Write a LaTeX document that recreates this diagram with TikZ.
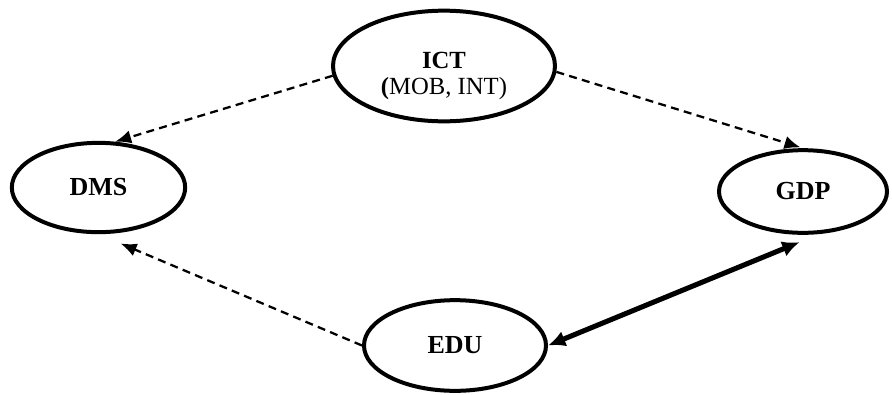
\documentclass[tikz,border=0pt]{standalone}
\usepackage{fontspec}
\setmainfont{Liberation Serif}
\usetikzlibrary{shapes.geometric}
\usetikzlibrary{arrows.meta}
\tikzstyle{state} = [draw, ellipse, line width=3pt, inner sep=0pt, font=\fontsize{19.5}{22}\selectfont\bfseries]
\tikzstyle{caption} = [align=center, inner sep=0pt, font=\fontsize{18.5}{20}\selectfont]
\tikzstyle{link} = [line width=1.7pt, dash pattern=on 6pt off 4pt, -{Latex[length=12pt,width=10pt]}]
\tikzstyle{bond} = [line width=3.8pt, {Latex[length=13pt,width=12pt]}-{Latex[length=13pt,width=12pt]}]

\begin{document}
\begin{tikzpicture}[x=0.75pt,y=-0.75pt]
    \useasboundingbox (0,0) rectangle (892,394);
    \node [state, minimum width=166.5pt, minimum height=83pt] (ict) at (444,66) {};
    \node [caption] (icttext) at (444,76) {\textbf{ICT}\\\textbf{(}MOB, INT)};
    \node [state, minimum width=130pt, minimum height=67pt] (dms) at (98.5,187.5) {DMS};
    \node [state, minimum width=126pt, minimum height=62pt] (gdp) at (803,191.5) {GDP};
    \node [state, minimum width=136.5pt, minimum height=68pt] (edu) at (455,345.5) {EDU};

    \draw [link] (ict.185) -- (dms.70); % links
    \draw [link, shorten >=2pt] (ict.-3) -- (gdp.north);
    \draw [link, shorten >=18pt] (edu.west) -- (dms.south);
    \draw [bond, shorten >=16pt] (edu.east) -- (gdp.-69);
\end{tikzpicture}
\end{document}
